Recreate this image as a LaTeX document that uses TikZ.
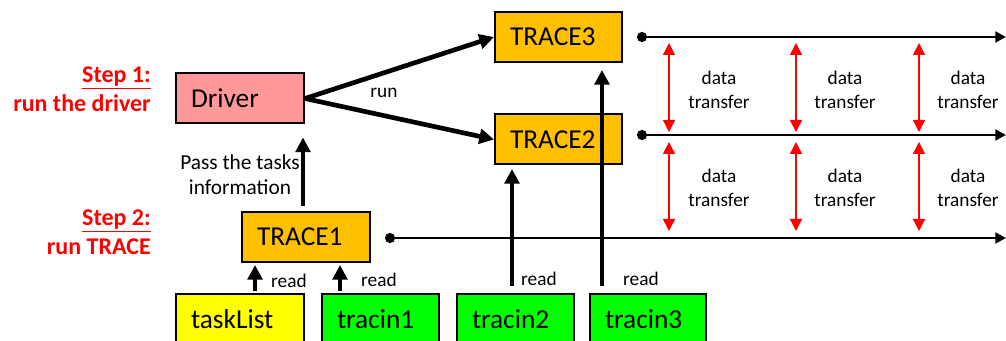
\documentclass[tikz,border=0pt]{standalone}
\usepackage{fontspec}
\setmainfont{Carlito}
\usetikzlibrary{arrows.meta,calc}
\definecolor{drvpink}{HTML}{FF9999}
\definecolor{traceorange}{HTML}{FFC000}
\definecolor{listyellow}{HTML}{FFFF00}
\definecolor{ingreen}{HTML}{00FF00}
\begin{document}
\begin{tikzpicture}[x=0.75pt, y=-0.75pt,
    box/.style={draw, line width=1.5pt, minimum height=37.5pt, inner xsep=11.25pt,
        align=left, font=\fontsize{20.5}{24}\selectfont},
    bigarrow/.style={-{Triangle[length=11pt,width=11pt]}, line width=3.5pt},
    tline/.style={{Circle[length=7.5pt]}-{Triangle[length=8pt,width=8pt]}, line width=2pt},
    xfer/.style={{Triangle[length=9pt,width=9pt]}-{Triangle[length=9pt,width=9pt]},
        red, line width=1.1pt},
    lbl/.style={font=\fontsize{14.5}{18}\selectfont, align=center, inner sep=0pt},
    steplbl/.style={font=\bfseries\fontsize{18}{21.75}\selectfont, text=red,
        align=right, anchor=east, inner sep=0pt}]
    \clip (0,0) rectangle (1006,341);

    % Steps
    \node[steplbl] (st1) at (151,89) {\underline{Step 1:}\\run the driver};
    \node[steplbl] (st2) at (151,232) {\underline{Step 2:}\\run TRACE};

    % Boxes
    \node[box, fill=drvpink, text width=73.5pt] (drv) at (240,98.5) {Driver};
    \node[box, fill=traceorange, text width=72.75pt] (tr3) at (558.5,37) {TRACE3};
    \node[box, fill=traceorange, text width=72.75pt] (tr2) at (558.5,139.5) {TRACE2};
    \node[box, fill=traceorange, text width=73.5pt] (tr1) at (306,237) {TRACE1};

    % Input files
    \node[box, fill=listyellow, text width=73.5pt] (tasks) at (240,319) {taskList};
    \node[box, fill=ingreen, text width=65.25pt] (in1) at (380.5,319) {tracin1};
    \node[box, fill=ingreen, text width=65.25pt] (in2) at (515.5,319) {tracin2};
    \node[box, fill=ingreen, text width=64.5pt] (in3) at (648,319) {tracin3};

    % Driver runs TRACE2 and TRACE3
    \draw[bigarrow] (drv.east) -- (tr3.west);
    \draw[bigarrow] (drv.east) -- (tr2.west);
    \node[lbl] (run) at (384,93) {run};

    % TRACE1 -> Driver
    \draw[bigarrow] ($(tr1.north)+(-3,-5)$) -- ($(tr1.north |- drv.south)+(-3,13)$);
    \node[lbl, font=\fontsize{16}{18.75}\selectfont] (pass) at (240,175) {Pass the tasks\\information};

    % Reading the inputs
    \draw[bigarrow] ($(tasks.north)+(15,-2)$) -- ($(tasks.north |- tr1.south)+(15,2)$);
    \draw[bigarrow] ($(in1.north)+(-40.5,-2)$) -- ($(in1.north |- tr1.south)+(-40.5,2)$);
    \draw[bigarrow] ($(in2.north)+(-3.5,-7)$) -- ($(in2.north |- tr2.south)+(-3.5,3.5)$);
    \draw[bigarrow] ($(in3.north)+(-46,-7)$) -- ($(in3.north |- tr3.south)+(-46,7)$);
    \node[lbl] (rd1) at (289,281) {read};
    \node[lbl] (rd2) at (379,280) {read};
    \node[lbl] (rd3) at (539,279) {read};
    \node[lbl] (rd4) at (641,279) {read};

    % Time lines
    \coordinate (e3) at (1006,37);
    \coordinate (e2) at (1006,135);
    \coordinate (e1) at (1006,238);
    \draw[tline] ($(tr3.east)+(14,0)$) -- (e3);
    \draw[tline] ($(tr2.east)+(14,-4.5)$) -- (e2);
    \draw[tline] ($(tr1.east)+(14,1)$) -- (e1);

    % Data transfers
    \foreach \x in {669,796,919} {
        \draw[xfer] (\x,43) -- (\x,132);
        \draw[xfer] (\x,142) -- (\x,231);
    }
    \foreach \x in {719,845,968} {
        \node[lbl] at (\x,90) {data\\transfer};
        \node[lbl] at (\x,188) {data\\transfer};
    }
\end{tikzpicture}
\end{document}
